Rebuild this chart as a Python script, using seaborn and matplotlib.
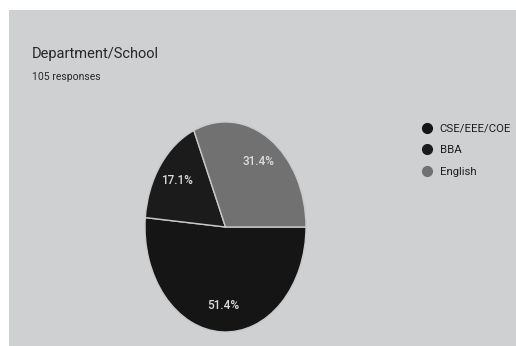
import matplotlib
matplotlib.use("Agg")
import matplotlib.pyplot as plt
from matplotlib.patches import Rectangle
from matplotlib.lines import Line2D
import seaborn as sns

# Data
categories = ["CSE/EEE/COE", "BBA", "English"]
counts = [54, 18, 33]
slice_colors = ["#151515", "#1b1b1b", "#717171"]
title_text = "Department/School"
subtitle_text = "105 responses"

sns.set_theme(style="white")
plt.rcParams["font.family"] = ["Roboto", "DejaVu Sans"]

W, H = 516, 346
fig = plt.figure(figsize=(W / 100, H / 100), dpi=100)
fig.patch.set_facecolor("white")
bg = "#cfd0d2"
fig.patches.append(Rectangle((9 / W, 0), 1, (H - 10) / H, transform=fig.transFigure,
                             facecolor=bg, edgecolor="none", zorder=-10))

def px_axes(x0, y0, x1, y1):
    return fig.add_axes([x0 / W, 1 - y1 / H, (x1 - x0) / W, (y1 - y0) / H])

ax = px_axes(145, 122, 306, 332)
wedges, texts, autotexts = ax.pie(
    counts, colors=slice_colors, startangle=0, counterclock=False,
    autopct="%1.1f%%", pctdistance=0.75,
    wedgeprops=dict(edgecolor="#c9c9c9", linewidth=1.0),
    textprops=dict(color="#dcdcdc", fontsize=8.5, fontweight="medium"),
)
ax.set_aspect("auto")
ax.set_xlim(-1, 1)
ax.set_ylim(-1, 1)
ax.axis("off")

fig.text(32 / W, 1 - 58 / H, title_text, fontsize=10.5, color="#282828", ha="left", va="baseline")
fig.text(32 / W, 1 - 80 / H, subtitle_text, fontsize=7.5, color="#282828", ha="left", va="baseline")

handles = [Line2D([], [], marker="o", linestyle="none", markersize=7,
                  markerfacecolor=c, markeredgecolor=c) for c in slice_colors]
fig.legend(handles, categories, loc="upper left", bbox_to_anchor=(422 / W, 1 - 124 / H),
           frameon=False, fontsize=8.2, handlelength=0.8, handletextpad=0.75,
           labelspacing=1.0, borderpad=0, borderaxespad=0, labelcolor="#1e1e1e")

fig.savefig("out.png", dpi=100, facecolor="white")
